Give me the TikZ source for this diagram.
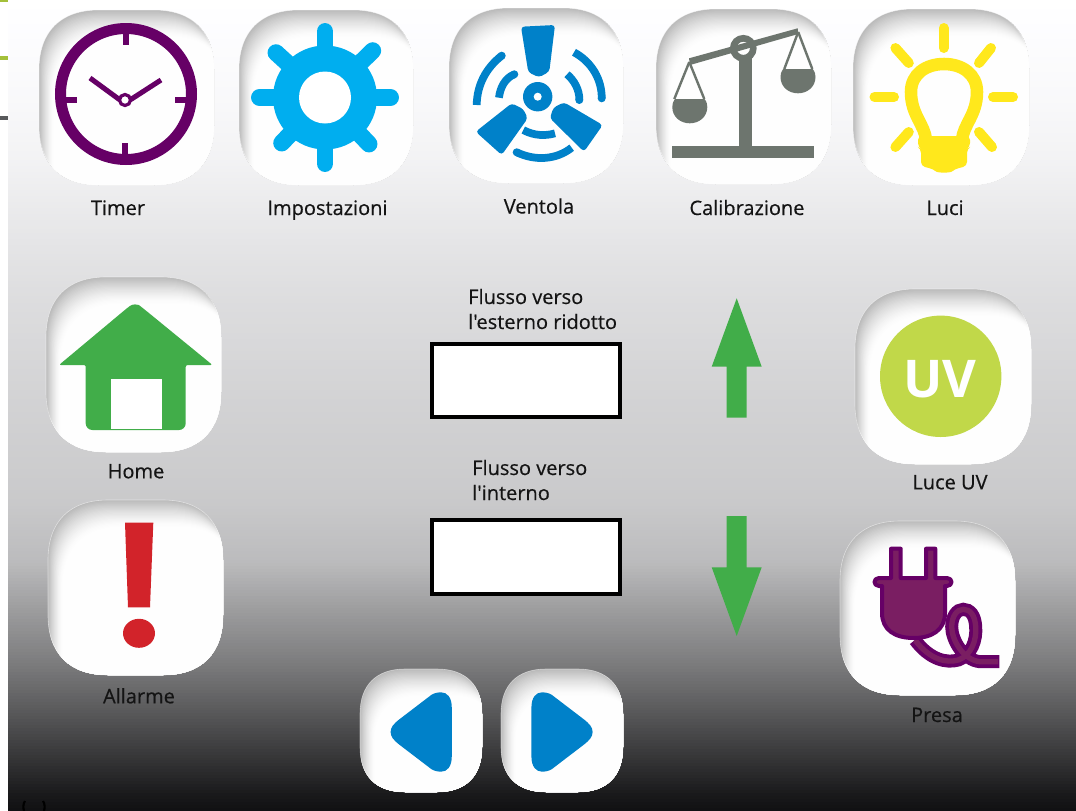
\documentclass[tikz,border=0pt]{standalone}
\usepackage{fontspec}
\setmainfont{Open Sans}
\newfontfamily\labf[FakeBold=0.4]{Open Sans}
\definecolor{purp}{HTML}{660066}
\definecolor{plugfill}{HTML}{7A1E62}
\definecolor{gearblue}{HTML}{00AEEF}
\definecolor{fanblue}{HTML}{0081C9}
\definecolor{scalegray}{HTML}{6D756E}
\definecolor{lampy}{HTML}{FFE81C}
\definecolor{homegreen}{HTML}{41AD49}
\definecolor{alarmred}{HTML}{D2232A}
\definecolor{uvgreen}{HTML}{C1D849}
\definecolor{edgegreen}{HTML}{A4C03A}
\definecolor{edgegray}{HTML}{58595B}
\newcommand\sqpath[5]{({#1+#5},{#2}) -- ({#3-#5},{#2}) .. controls ({#3-.36*#5},{#2}) and ({#3},{#2+.36*#5}) .. ({#3},{#2+#5}) -- ({#3},{#4-#5}) .. controls ({#3},{#4-.36*#5}) and ({#3-.36*#5},{#4}) .. ({#3-#5},{#4}) -- ({#1+#5},{#4}) .. controls ({#1+.36*#5},{#4}) and ({#1},{#4-.36*#5}) .. ({#1},{#4-#5}) -- ({#1},{#2+#5}) .. controls ({#1},{#2+.36*#5}) and ({#1+.36*#5},{#2}) .. cycle}
\newcommand\tile[5]{%
  \begin{scope}
  \clip \sqpath{#1}{#2}{#3}{#4}{#5};
  \fill[black!27!white] ({#1-2},{#2-2}) rectangle ({#3+2},{#4+2});
  \foreach \i in {1,...,24}{%
    \pgfmathsetmacro\tp{27*(1-\i/25)^1.5}%
    \pgfmathsetmacro\ta{#1+0.6*\i}%
    \pgfmathsetmacro\tb{#2+1.1*\i}%
    \pgfmathsetmacro\tc{#3+1+0.6*\i}%
    \pgfmathsetmacro\td{#4+1+3*\i}%
    \fill[black!\tp!white] \sqpath{\ta}{\tb}{\tc}{\td}{#5};
  }%
  \end{scope}
  \draw[white,opacity=.5,line width=.45pt] \sqpath{#1}{#2}{#3}{#4}{#5};
}
\newcommand\triang[2]{%
  \fill[fanblue] ({#1},708) .. controls ({#1},697) and ({#1+#2*4.8},692.3) .. ({#1+#2*10.8},692.3) .. controls ({#1+#2*16},692.3) and ({#1+#2*20},694) .. ({#1+#2*23.2},697) -- ({#1+#2*52},719) .. controls ({#1+#2*58.5},724) and ({#1+#2*61.2},727.5) .. ({#1+#2*61.2},732) .. controls ({#1+#2*61.2},736.5) and ({#1+#2*58.5},740) .. ({#1+#2*52},745) -- ({#1+#2*23.2},767) .. controls ({#1+#2*20},770) and ({#1+#2*16},771.7) .. ({#1+#2*10.8},771.7) .. controls ({#1+#2*4.8},771.7) and ({#1},767) .. ({#1},756) -- cycle;
}
\newcommand\bowl[2]{%
  \fill[scalegray] ({#1+2.7},{#2}) -- ({#1+32.2},{#2}) .. controls ({#1+34.7},{#2+3}) and ({#1+35},{#2+6}) .. ({#1+35},{#2+8}) .. controls ({#1+35},{#2+18}) and ({#1+26.7},{#2+24.3}) .. ({#1+17.5},{#2+24.3}) .. controls ({#1+8.2},{#2+24.3}) and ({#1},{#2+18}) .. ({#1},{#2+8}) .. controls ({#1},{#2+6}) and ({#1+.4},{#2+3}) .. cycle;
}
\tikzset{
  lab/.style={inner sep=0pt,text=black!92,anchor=base,font=\labf\fontsize{15}{17}\selectfont},
  flowbox/.style={draw=black,fill=white,line width=3pt},
  fanarc/.style={draw=fanblue,line width=5.8pt},
  ray/.style={draw=lampy,line width=7.5pt,line cap=round},
  spoke/.style={draw=gearblue,line width=12.7pt,line cap=round},
  pan/.style={draw=scalegray,line width=1.8pt}
}
\begin{document}
\begin{tikzpicture}[x=0.75pt,y=-0.75pt]
\useasboundingbox (0,0) rectangle (1076,811);
\fill[white] (0,0) rectangle (1076,811);
% background gradient, painted top-down in thin bands
\foreach \ya/\va/\yb/\vb in {0/1/100/.975,100/.975/160/.95,160/.95/230/.905,230/.905/300/.865,300/.865/400/.825,400/.825/500/.79,500/.79/560/.735,560/.735/610/.61,610/.61/660/.49,660/.49/710/.35,710/.35/760/.2,760/.2/793/.1,793/.1/811/.06}{%
  \pgfmathtruncatemacro\nn{(\yb-\ya)/3}%
  \foreach \k in {0,...,\nn}{%
    \pgfmathsetmacro\yy{\ya+3*\k}%
    \pgfmathsetmacro\bgv{\va+(\vb-\va)*3*\k/(\yb-\ya)}%
    \pgfmathsetmacro\bgw{min(1,\bgv+.006)}%
    \definecolor{bgc}{rgb}{\bgv,\bgv,\bgw}%
    \fill[bgc] (8,\yy) rectangle (1076,811);
  }%
}
% left-edge remnants
\fill[edgegreen] (0,0) rectangle (8,1.5);
\fill[edgegreen] (0,56) rectangle (8,60);
\fill[edgegray] (0,116) rectangle (8,120);
\draw[black,line width=1.6pt] (25,801) .. controls (23,804) and (23,808) .. (24,811);
\draw[black,line width=1.6pt] (43,801) .. controls (45,804) and (45,808) .. (44,811);

% tiles
\tile{39}{10}{214}{185}{60}
\tile{239}{10}{413}{185}{60}
\tile{449}{8}{623}{183}{60}
\tile{656}{9}{831}{184}{60}
\tile{853}{9}{1029}{185}{60}
\tile{46}{277}{221}{452}{60}
\tile{48}{500}{223}{675}{60}
\tile{855}{289}{1031}{464}{60}
\tile{840}{521}{1015}{695}{60}
\tile{360}{669}{482}{792}{45}
\tile{501}{669}{623}{792}{45}

% clock
\draw[purp,line width=8.25pt] (126,94) circle (65.5);
\draw[purp,line width=4.5pt] (126,33) -- (126,44.5);
\draw[purp,line width=4.5pt] (125,143) -- (125,155);
\draw[purp,line width=4.5pt] (66,100) -- (76.5,100);
\draw[purp,line width=4.5pt] (175,100) -- (186,100);
\draw[purp,line width=3.8pt] (90,78) -- (120,100);
\draw[purp,line width=3.8pt] (161,80) -- (130,100);
\draw[purp,fill=white,line width=2.4pt] (125,100) circle (5.5);

% gear
\fill[gearblue] (325,97.5) circle (52);
\foreach \ex/\ey in {325/31.5,325/163.5,259.5/97.5,390.5/97.5,372.7/50.7,276/52.7,369/144,281.7/143}
  \draw[spoke] (325,97.5) -- (\ex,\ey);
\fill[white] (325,97.5) circle (26);

% fan
\fill[fanblue,rounded corners=2.5pt] (521,26.7) -- (555,25) -- (549.3,71.7) -- (539,77.3) -- (528.3,72.3) -- cycle;
\fill[fanblue,rounded corners=2.5pt] (511.7,103.3) -- (523.3,109) -- (527.7,118.3) -- (501.7,155) -- (475.7,131.7) -- cycle;
\fill[fanblue,rounded corners=2.5pt] (564,102.3) -- (602.7,125) -- (584,151.7) -- (550,118.3) -- (553.3,107.7) -- cycle;
\fill[fanblue] (537.7,96.7) circle (14.7);
\fill[white] (537.7,96.7) circle (4);
\draw[fanarc] (476.7,105) .. controls (477,85) and (486,68) .. (501.7,55.7);
\fill[fanblue] (501.7,55.7) circle (4);
\draw[fanarc] (574,52.3) .. controls (592,62) and (602,80) .. (601.7,98.3);
\fill[fanblue] (601.7,98.3) circle (4);
\draw[fanarc] (514.3,74.3) .. controls (505,78) and (500,88) .. (499,97.7);
\fill[fanblue] (514.3,74.3) circle (4);
\draw[fanarc] (567,74.3) .. controls (574,80) and (579.7,90) .. (579.3,100);
\fill[fanblue] (579.3,100) circle (4);
\draw[fanarc] (523.3,130) .. controls (534,136) and (546,136) .. (555,133.3);
\draw[fanarc] (516.7,152.3) .. controls (535,161) and (556,160) .. (571.7,147.7);
\fill[fanblue] (516.7,152.3) circle (4);

% scale
\fill[scalegray] (672.3,146) rectangle (814,158.3);
\fill[scalegray] (739,58) rectangle (751.7,146);
\draw[scalegray,line width=5pt] (743.3,48.3) circle (10);
\fill[scalegray] (689,58.3) -- (797.7,28.3) -- (798.3,34) -- (690,65) -- cycle;
\draw[pan] (689.3,62) -- (674.3,99);
\draw[pan] (689.3,62) -- (704.3,99);
\draw[pan] (798.2,32) -- (784.3,69);
\draw[pan] (798.2,32) -- (812.3,69);
\bowl{672.3}{99}
\bowl{780.5}{69}

% lamp
\draw[lampy,line width=9.4pt] (926,140) .. controls (925,125) and (911,115) .. (911,92) .. controls (911,74) and (926,64) .. (944,64) .. controls (962,64) and (977,74) .. (977,92) .. controls (977,115) and (963,125) .. (962,140);
\fill[lampy,rounded corners=3pt] (918,136) -- (970,136) -- (970,147) -- (967,149) -- (967,166) -- (955,169) .. controls (950,173) and (938,173) .. (933,169) -- (921,166) -- (921,149) -- (918,147) -- cycle;
\draw[ray] (943.6,28) -- (943.6,48);
\draw[ray] (874.5,97) -- (894,97);
\draw[ray] (993,97) -- (1013,97);
\draw[ray] (895.4,48) -- (908.8,63);
\draw[ray] (991,48) -- (979,63);
\draw[ray] (908.8,132) -- (895.4,147);
\draw[ray] (979,132) -- (992,147);

% home
\fill[homegreen,rounded corners=1.5pt] (85.7,365) -- (59,365) -- (126,309) [rounded corners=5pt] -- (135,302) -- (144,309) [rounded corners=1.5pt] -- (212.5,365) -- (185.7,365) [rounded corners=5pt] -- (185.7,430) -- (85.7,430) [rounded corners=1pt] -- cycle;
\fill[white] (111,379) rectangle (162,429.3);

% alarm
\fill[alarmred] (125,522.7) -- (153.3,522.7) -- (150,607.3) -- (128,607.3) -- cycle;
\fill[alarmred] (139,633.3) ellipse (16 and 14.5);

% uv
\fill[uvgreen] (940.7,376.3) circle (60.7);
\node[inner sep=0pt,text=white,font=\fontsize{39}{40}\selectfont\bfseries] (uvt) at (940,379) {UV};

% plug
\draw[purp,line width=9.75pt] (915,640) .. controls (930,660) and (946.7,663.3) .. (958.3,660) .. controls (971.7,655) and (976.7,640) .. (975.7,626.7) .. controls (975,615) and (970,609.3) .. (963.3,609.3) .. controls (956.7,609.3) and (951.7,616.7) .. (951.7,626.7) .. controls (951.7,640) and (963.3,660) .. (980,661.7) -- (999.3,661.7);
\draw[plugfill,line width=4pt] (915,640) .. controls (930,660) and (946.7,663.3) .. (958.3,660) .. controls (971.7,655) and (976.7,640) .. (975.7,626.7) .. controls (975,615) and (970,609.3) .. (963.3,609.3) .. controls (956.7,609.3) and (951.7,616.7) .. (951.7,626.7) .. controls (951.7,640) and (963.3,660) .. (980,661.7) -- (998,661.7);
\draw[purp,fill=plugfill,line width=3pt,line join=round] (891,578) -- (891,548.7) -- (900.7,548.7) -- (900.7,578) -- (926,578) -- (926,548.7) -- (935.3,548.7) -- (935.3,578) -- (947,578) .. controls (953,578) and (953,586) .. (947,586) -- (945,586) -- (945,613) .. controls (945,630) and (932,638) .. (913.5,638) .. controls (895,638) and (882,630) .. (882,613) -- (882,586) -- (879,586) .. controls (873,586) and (873,578) .. (879,578) -- cycle;

% navigation arrows
\triang{451.8}{-1}
\triang{531.4}{1}

% flow boxes and arrows
\node[lab,anchor=base west] (f1a) at (468,304) {Flusso verso};
\node[lab,anchor=base west] (f1b) at (468,329) {l'esterno ridotto};
\node[lab,anchor=base west] (f2a) at (472,475) {Flusso verso};
\node[lab,anchor=base west] (f2b) at (472,500) {l'interno};
\draw[flowbox] (432,344.3) rectangle (619.7,417.3);
\draw[flowbox] (432,520.3) rectangle (619.7,593.7);
\fill[homegreen] (736.7,298.3) -- (761.7,366.7) -- (746.7,366.7) -- (746.7,417.7) -- (726.7,417.7) -- (726.7,366.7) -- (711.7,366.7) -- cycle;
\fill[homegreen] (736.7,636) -- (761.7,567.3) -- (746.7,567.3) -- (746.7,516) -- (726.7,516) -- (726.7,567.3) -- (711.7,567.3) -- cycle;

% labels
\node[lab] (l1) at (118,215) {Timer};
\node[lab] (l2) at (327.5,215) {Impostazioni};
\node[lab] (l3) at (539,213.5) {Ventola};
\node[lab] (l4) at (747,215) {Calibrazione};
\node[lab] (l5) at (945,215) {Luci};
\node[lab] (l6) at (136,478.3) {Home};
\node[lab] (l7) at (139,703.3) {Allarme};
\node[lab] (l8) at (950,489.3) {Luce UV};
\node[lab] (l9) at (937,722) {Presa};
\end{tikzpicture}
\end{document}
